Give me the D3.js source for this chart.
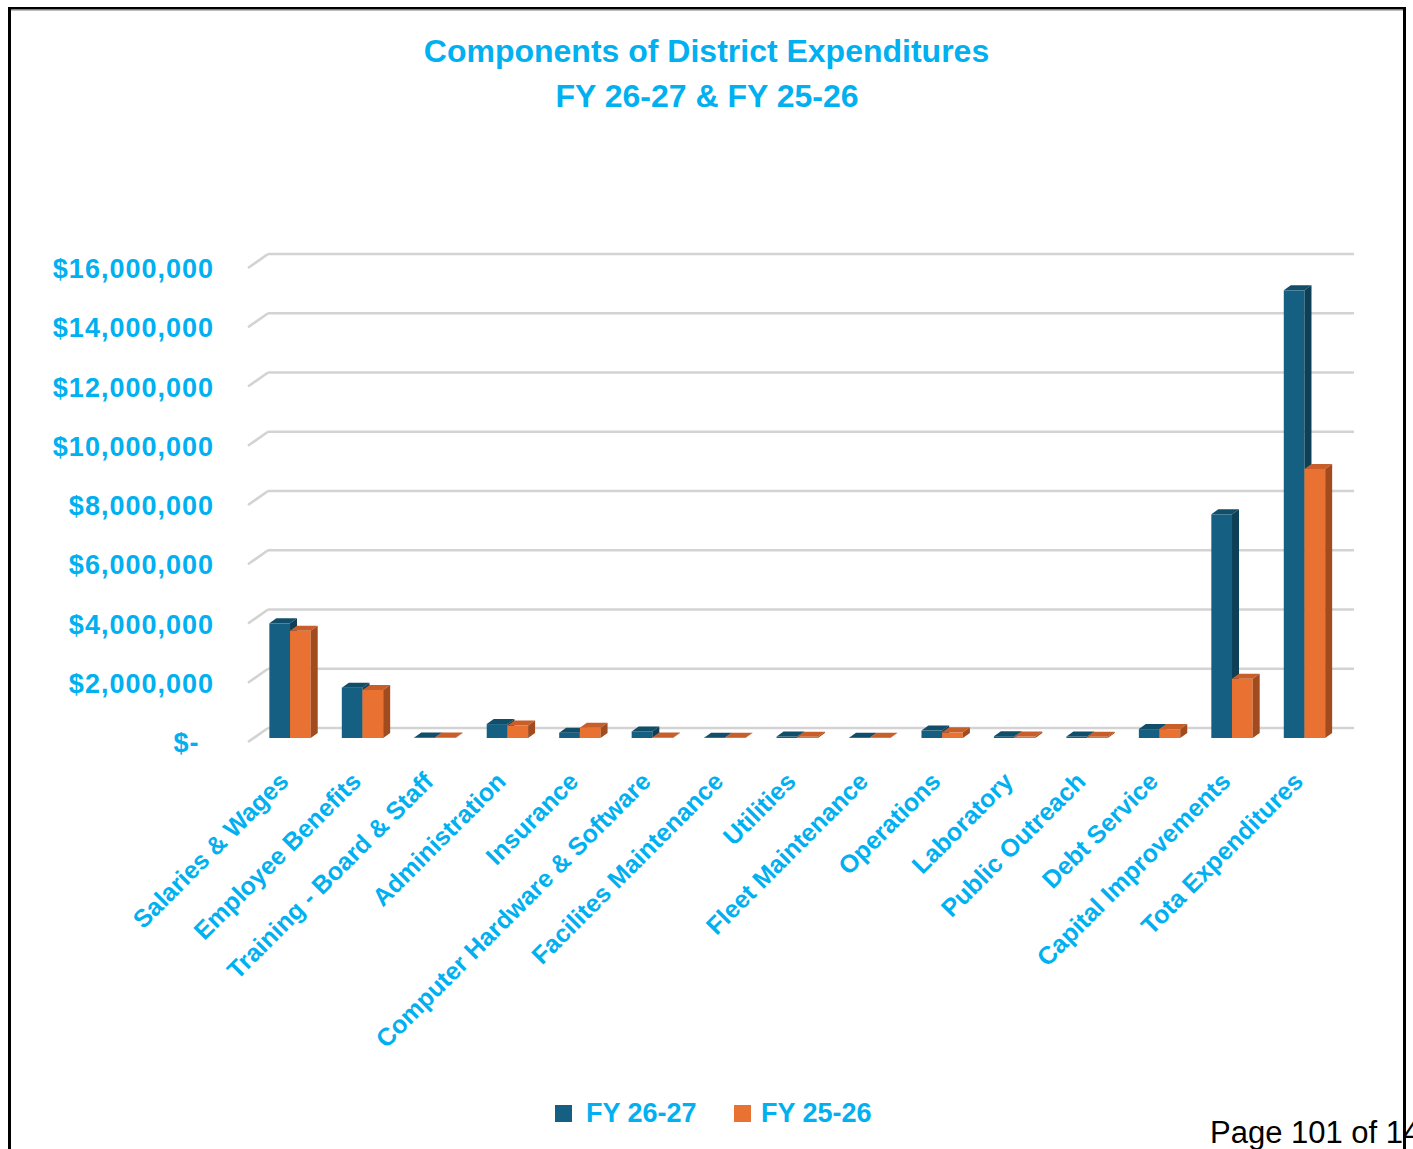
<!DOCTYPE html>
<html>
<head>
<meta charset="utf-8">
<script src="https://cdn.jsdelivr.net/npm/d3@7"></script>
<style>
  html, body { margin: 0; padding: 0; background: #fff; }
  svg { display: block; font-family: "Liberation Sans", Arial, sans-serif; }
</style>
</head>
<body>
<svg id="chart" width="1413" height="1149"></svg>
<script>
// Expenditure categories and the two fiscal-year series (dollars)
const categories = [
  "Salaries & Wages", "Employee Benefits", "Training - Board & Staff", "Administration",
  "Insurance", "Computer Hardware & Software", "Facilites Maintenance", "Utilities",
  "Fleet Maintenance", "Operations", "Laboratory", "Public Outreach", "Debt Service",
  "Capital Improvements", "Tota Expenditures"
];
const fy2627 = [3870000, 1700000, 20000, 470000, 180000, 220000, 10000, 50000,
                10000, 250000, 60000, 50000, 300000, 7550000, 15110000];
const fy2526 = [3620000, 1620000, 20000, 420000, 350000, 20000, 10000, 40000,
                10000, 190000, 50000, 40000, 300000, 2000000, 9080000];
const seriesNames = ["FY 26-27", "FY 25-26"];
const tickValues = [0, 2000000, 4000000, 6000000, 8000000, 10000000, 12000000, 14000000, 16000000];
const tickLabels = ["$-\u2002", "$2,000,000", "$4,000,000", "$6,000,000", "$8,000,000",
                    "$10,000,000", "$12,000,000", "$14,000,000", "$16,000,000"];

const CYAN = "#00B0F0";
const palette = [
  { front: "#156082", top: "#114E6A", side: "#0D3F57" },
  { front: "#E97132", top: "#C85F2A", side: "#A14B1F" }
];

const svg = d3.select("#chart");

// Front plane value scale; back wall and bar plane are offset from it
const y = d3.scaleLinear().domain([0, 16000000]).range([742, 268]);
const wall = { dx: 20, dy: -14 };      // oblique depth of the back wall
const barShiftY = -4;                  // bar front faces sit just behind the front plane
const depth = { dx: 7, dy: -5 };       // bar thickness

const x = d3.scaleBand().domain(categories).range([253.8, 1340.7])
  .paddingInner(0.429).paddingOuter(0.2145);
const xs = d3.scaleBand().domain(seriesNames).range([0, x.bandwidth()]);

// Gridlines: side-wall diagonal plus back-wall horizontal
const grid = svg.append("g").attr("stroke", "#d3d3d3").attr("stroke-width", 2.6).attr("fill", "none");
grid.selectAll("path.diag").data(tickValues).join("path")
  .attr("class", "diag")
  .attr("d", d => `M248,${y(d)}L${248 + wall.dx},${y(d) + wall.dy}`);
grid.selectAll("line.back").data(tickValues).join("line")
  .attr("class", "back")
  .attr("x1", 248 + wall.dx).attr("x2", 1354)
  .attr("y1", d => y(d) + wall.dy).attr("y2", d => y(d) + wall.dy);

// 3D columns
const rows = categories.map((c, i) => ({ cat: c, vals: [fy2627[i], fy2526[i]] }));
const groups = svg.append("g").selectAll("g").data(rows).join("g")
  .attr("transform", d => `translate(${x(d.cat)},0)`);

groups.each(function(d) {
  const g = d3.select(this);
  d.vals.forEach((v, s) => {
    const x0 = xs(seriesNames[s]);
    const w = xs.bandwidth();
    const yTop = y(v) + barShiftY;
    const yBase = y(0) + barShiftY;
    const c = palette[s];
    g.append("rect")
      .attr("x", x0).attr("y", yTop).attr("width", w).attr("height", yBase - yTop)
      .attr("fill", c.front);
    g.append("path")
      .attr("d", `M${x0},${yTop}L${x0 + depth.dx},${yTop + depth.dy}L${x0 + w + depth.dx},${yTop + depth.dy}L${x0 + w},${yTop}Z`)
      .attr("fill", c.top);
    g.append("path")
      .attr("d", `M${x0 + w},${yTop}L${x0 + w + depth.dx},${yTop + depth.dy}L${x0 + w + depth.dx},${yBase + depth.dy}L${x0 + w},${yBase}Z`)
      .attr("fill", c.side);
  });
});

// Value axis labels
const yAxis = svg.append("g").attr("transform", "translate(214,0)")
  .call(d3.axisLeft(y).tickValues(tickValues).tickSize(0).tickPadding(0)
    .tickFormat((d, i) => tickLabels[i]));
yAxis.select(".domain").remove();
yAxis.selectAll("text")
  .attr("fill", CYAN).attr("font-size", 27).attr("font-weight", "bold")
  .attr("letter-spacing", "1px")
  .attr("font-family", "'Liberation Sans', Arial, sans-serif")
  .attr("dy", "0.36em");

// Category axis labels, rotated
const xAxis = svg.append("g").attr("transform", "translate(0,783)")
  .call(d3.axisBottom(x).tickSize(0).tickPadding(0));
xAxis.select(".domain").remove();
xAxis.selectAll("text")
  .attr("fill", CYAN).attr("font-size", 25).attr("font-weight", "bold")
  .attr("font-family", "'Liberation Sans', Arial, sans-serif")
  .attr("text-anchor", "end")
  .attr("x", 0).attr("y", 0).attr("dy", 0)
  .attr("transform", "rotate(-45)");

// Title
const title = svg.append("g").attr("fill", CYAN).attr("font-weight", "bold")
  .attr("font-size", 32).attr("text-anchor", "middle");
title.append("text").attr("x", 706.5).attr("y", 62).text("Components of District Expenditures");
title.append("text").attr("x", 707).attr("y", 107).text("FY 26-27 & FY 25-26");

// Legend
const legendX = [555, 734];
const legend = svg.append("g").selectAll("g").data(seriesNames).join("g")
  .attr("transform", (d, i) => `translate(${legendX[i]},1105)`);
legend.append("rect").attr("width", 17).attr("height", 17)
  .attr("fill", (d, i) => palette[i].front);
legend.append("text")
  .attr("x", (d, i) => i === 0 ? 31 : 27).attr("y", 17)
  .attr("fill", CYAN).attr("font-size", 27).attr("font-weight", "bold")
  .text(d => d);

// Page footer
svg.append("text").attr("x", 1210).attr("y", 1143)
  .attr("font-size", 31).attr("fill", "#000").text("Page 101 of 14");

// Frame
svg.append("line").attr("x1", 11).attr("x2", 1403).attr("y1", 10.5).attr("y2", 10.5)
  .attr("stroke", "#bdbdbd").attr("stroke-width", 1);
const frame = svg.append("g").attr("stroke", "#000").attr("fill", "none");
frame.append("line").attr("x1", 8).attr("x2", 1406).attr("y1", 8.3).attr("y2", 8.3).attr("stroke-width", 2.6);
frame.append("line").attr("x1", 9.5).attr("x2", 9.5).attr("y1", 7).attr("y2", 1149).attr("stroke-width", 3);
frame.append("line").attr("x1", 1404.5).attr("x2", 1404.5).attr("y1", 7).attr("y2", 1149).attr("stroke-width", 3);
</script>
</body>
</html>
